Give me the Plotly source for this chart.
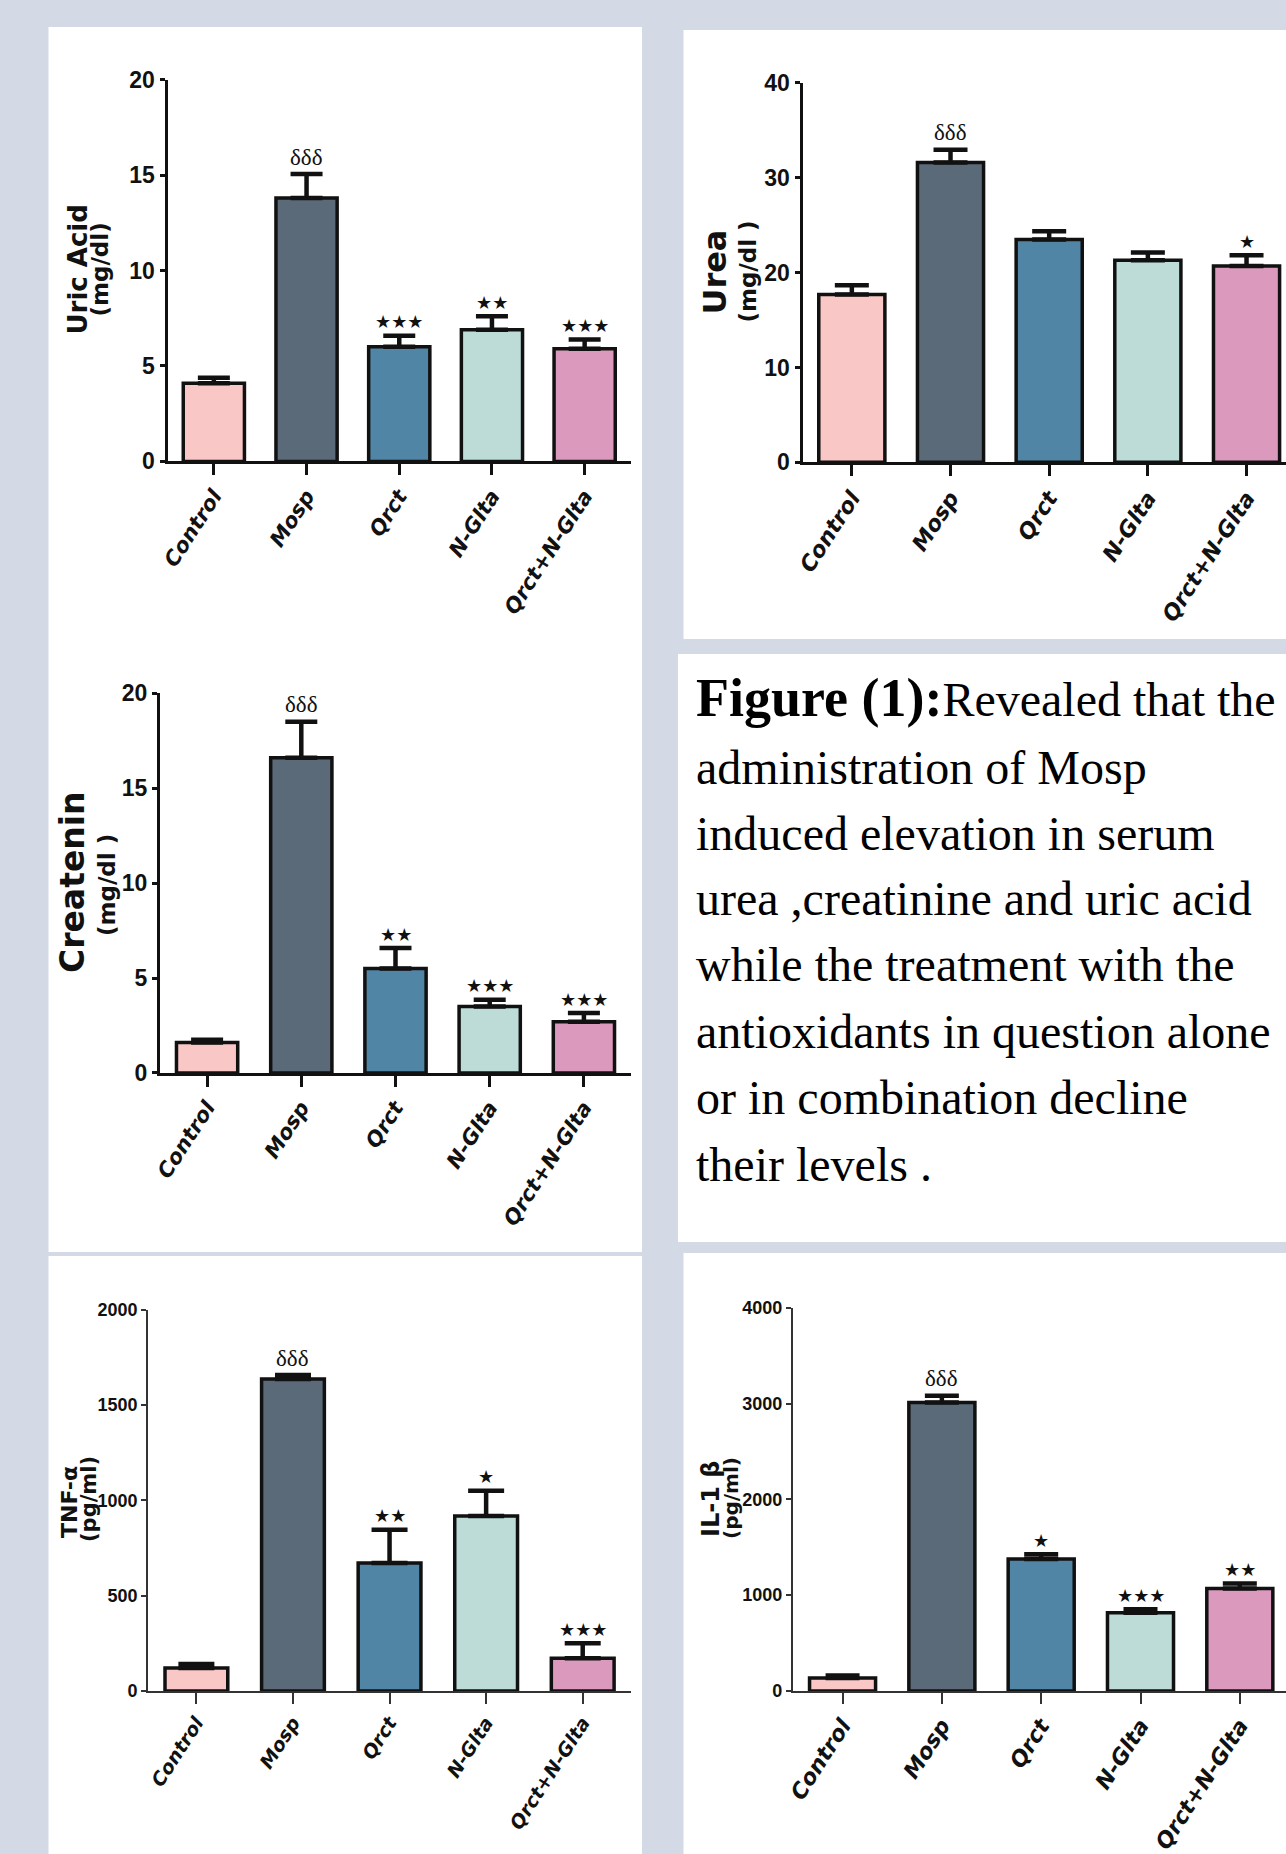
import plotly.graph_objects as go

# ---------------- data ----------------
categories = ["Control", "Mosp", "Qrct", "N-Glta", "Qrct+N-Glta"]
bar_colors = ["#f9c7c5", "#5a6a78", "#5185a5", "#bddcd8", "#db9abd"]

uric_mean = [4.1, 13.8, 6.0, 6.9, 5.9]
uric_sem = [0.28, 1.25, 0.58, 0.70, 0.48]
uric_marks = ["", "δδδ", "★★★", "★★", "★★★"]

urea_mean = [17.7, 31.6, 23.5, 21.3, 20.7]
urea_sem = [0.97, 1.35, 0.87, 0.83, 1.14]
urea_marks = ["", "δδδ", "", "", "★"]

creat_mean = [1.6, 16.6, 5.5, 3.5, 2.7]
creat_sem = [0.15, 1.9, 1.08, 0.36, 0.45]
creat_marks = ["", "δδδ", "★★", "★★★", "★★★"]

tnf_mean = [120, 1637, 671, 918, 172]
tnf_sem = [21, 20, 175, 133, 78]
tnf_marks = ["", "δδδ", "★★", "★", "★★★"]

il_mean = [135, 3011, 1377, 817, 1070]
il_sem = [28, 70, 50, 37, 53]
il_marks = ["", "δδδ", "★", "★★★", "★★"]

caption_bold = "Figure (1):"
caption_lines = [
    "Revealed that the",
    "administration of Mosp",
    "induced elevation in serum",
    "urea ,creatinine and uric acid",
    "while the treatment with the",
    "antioxidants in question alone",
    "or in combination decline",
    "their levels .",
]

# ---------------- layout helpers ----------------
W, H = 1286, 1854
BG = "#d4d9e6"
INK = "#111111"


def fx(p):
    return p / W


def fy(p):
    return 1 - p / H


TICKF = "Liberation Sans, Arial, sans-serif"
XLAB = "DejaVu Sans, Arial, sans-serif"
TITLE = "DejaVu Sans, Arial, sans-serif"

panels = [
    dict(mean=uric_mean, sem=uric_sem, marks=uric_marks,
         px=(167.5, 631), py=(461.4, 79.6), xr=[-0.5, 4.5], yr=[0, 20], dtick=5,
         bw=0.66, cap=16, lw=3, tick_fs=23, xfs=21, lc="#111",
         titles=[("Uric Acid", 77, 269.5, 26), ("(mg/dl)", 99, 269.5, 23)]),
    dict(mean=urea_mean, sem=urea_sem, marks=urea_marks,
         px=(802.5, 1286), py=(462.3, 82.9), xr=[-0.5, 4.4], yr=[0, 40], dtick=10,
         bw=0.67, cap=17, lw=3, tick_fs=23, xfs=22, lc="#111",
         titles=[("Urea", 715, 272.6, 32), ("(mg/dl )", 748, 271.6, 23)]),
    dict(mean=creat_mean, sem=creat_sem, marks=creat_marks,
         px=(160, 631), py=(1072.9, 693.3), xr=[-0.5, 4.5], yr=[0, 20], dtick=5,
         bw=0.65, cap=16, lw=3, tick_fs=23, xfs=21, lc="#111",
         titles=[("Createnin", 72, 882, 33), ("(mg/dl )", 107, 885, 23)]),
    dict(mean=tnf_mean, sem=tnf_sem, marks=tnf_marks,
         px=(148.1, 631), py=(1691, 1309.7), xr=[-0.5, 4.5], yr=[0, 2000], dtick=500,
         bw=0.65, cap=18, lw=2, tick_fs=18, xfs=19, lc="#333",
         titles=[("TNF-α", 69, 1502, 22), ("(pg/ml)", 89, 1499, 21)]),
    dict(mean=il_mean, sem=il_sem, marks=il_marks,
         px=(792.9, 1286), py=(1691, 1307.7), xr=[-0.5, 4.465], yr=[0, 4000], dtick=1000,
         bw=0.665, cap=17, lw=2, tick_fs=18, xfs=22, lc="#333",
         titles=[("IL-1 β", 711, 1499, 24), ("(pg/ml)", 731, 1498, 20)]),
]

fig = go.Figure()
layout = dict(
    width=W, height=H, autosize=False,
    margin=dict(l=0, r=0, t=0, b=0, pad=0, autoexpand=False),
    paper_bgcolor=BG,
    plot_bgcolor="rgba(0,0,0,0)",
    showlegend=False,
    shapes=[],
    annotations=[],
)

# white panels
for (x0, y0, x1, y1) in [(48.5, 27, 642, 1252), (683.5, 30, 1286, 639),
                         (678, 654, 1286, 1242), (48.5, 1256, 642, 1854),
                         (683.5, 1253, 1286, 1854)]:
    layout["shapes"].append(dict(type="rect", xref="paper", yref="paper",
                                 x0=fx(x0), x1=fx(x1), y0=fy(y1), y1=fy(y0),
                                 fillcolor="white", line=dict(width=0), layer="below"))

for i, p in enumerate(panels, start=1):
    xa = "x" if i == 1 else f"x{i}"
    ya = "y" if i == 1 else f"y{i}"
    fig.add_trace(go.Bar(
        x=categories, y=p["mean"], width=p["bw"],
        marker=dict(color=bar_colors, line=dict(color=INK, width=3.5)),
        error_y=dict(type="data", symmetric=False, array=p["sem"],
                     arrayminus=[0] * len(p["sem"]), thickness=4.5,
                     width=p["cap"], color=INK),
        xaxis=xa, yaxis=ya, hoverinfo="skip", cliponaxis=False,
    ))
    layout["xaxis" if i == 1 else f"xaxis{i}"] = dict(
        domain=[fx(p["px"][0]), fx(p["px"][1])], range=p["xr"], anchor=ya,
        type="category", showline=True, linewidth=p["lw"], linecolor=p["lc"],
        ticks="outside", ticklen=11, tickwidth=p["lw"], tickcolor=p["lc"],
        showgrid=False, zeroline=False, tickangle=-57, automargin=False,
        tickfont=dict(family=XLAB, size=p["xfs"], color=INK, weight="bold", style="italic"),
        fixedrange=True,
    )
    layout["yaxis" if i == 1 else f"yaxis{i}"] = dict(
        domain=[fy(p["py"][0]), fy(p["py"][1])], range=p["yr"], anchor=xa,
        dtick=p["dtick"], tick0=0, showline=True, linewidth=p["lw"], linecolor=p["lc"],
        ticks="outside", ticklen=5, tickwidth=p["lw"], tickcolor=p["lc"],
        showgrid=False, zeroline=False, automargin=False,
        tickfont=dict(family=TICKF, size=p["tick_fs"], color=INK, weight="bold"),
        fixedrange=True,
    )
    for j, m in enumerate(p["marks"]):
        if not m:
            continue
        is_delta = m.startswith("δ")
        layout["annotations"].append(dict(
            x=categories[j], y=p["mean"][j] + p["sem"][j], xref=xa, yref=ya,
            text=m, showarrow=False, yanchor="middle", xanchor="center",
            yshift=17 if is_delta else 14,
            font=dict(family="Liberation Serif, Times New Roman, serif" if is_delta else "DejaVu Sans",
                      size=23 if is_delta else 18, color="#111"),
        ))
    for (txt, cx, cy, fs) in p["titles"]:
        layout["annotations"].append(dict(
            x=fx(cx), y=fy(cy), xref="paper", yref="paper", text=txt,
            showarrow=False, textangle=-90, xanchor="center", yanchor="middle",
            font=dict(family=TITLE, size=fs, color=INK, weight="bold"),
        ))

# caption text
baselines = [717.8, 784.2, 850.2, 915.5, 981.9, 1048.3, 1114.4, 1181.6]
for k, line in enumerate(caption_lines):
    fs = 48
    if k == 0:
        txt = f'<b><span style="font-size:54px">{caption_bold}</span></b>{line}'
        bottom = baselines[k] + 0.216 * 54 + 1
    else:
        txt = line
        bottom = baselines[k] + 0.216 * fs + 1
    layout["annotations"].append(dict(
        x=fx(694), y=fy(bottom), xref="paper", yref="paper", text=txt,
        showarrow=False, xanchor="left", yanchor="bottom", align="left",
        font=dict(family="Liberation Serif, Times New Roman, serif", size=fs, color="#000"),
    ))

fig.update_layout(**layout)
fig.write_html(
    "out.html", config={"displayModeBar": False, "responsive": False},
    post_script=("document.documentElement.style.margin='0';"
                 "document.body.style.margin='0';document.body.style.padding='0';"
                 "document.body.style.background='" + BG + "';"),
)
